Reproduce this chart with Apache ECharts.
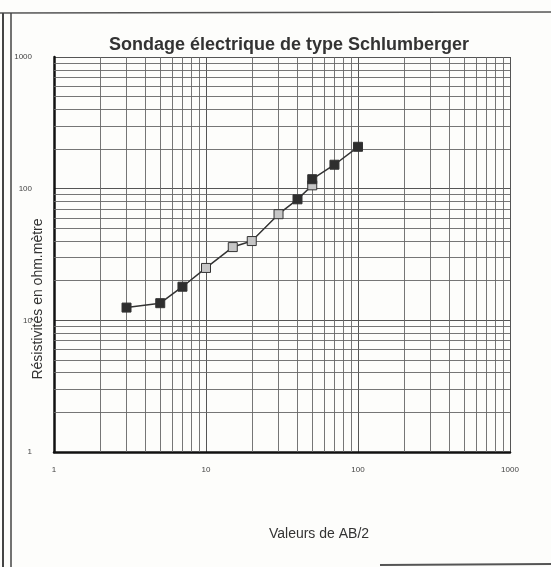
<!DOCTYPE html>
<html>
<head>
<meta charset="utf-8">
<script src="https://cdn.jsdelivr.net/npm/echarts@6/dist/echarts.min.js"></script>
<style>
html,body{margin:0;padding:0;background:#fdfdfb;}
#chart{width:551px;height:567px;}
</style>
</head>
<body>
<div id="chart"></div>
<script>
// ---- data ----
const abHalf      = [3, 5, 7, 10, 15, 20, 30, 40, 50, 50, 70, 100];           // AB/2 (m)
const resistivity = [12.5, 13.5, 18, 25, 36, 40, 64, 83, 106, 118, 152, 208]; // ohm.m
const pointGroup  = ['A','A','A','B','B','B','B','A','B','A','A','A'];
const xTicks = [1, 10, 100, 1000];
const yTicks = [1, 10, 100, 1000];
const minorSteps = [2, 3, 4, 5, 6, 7, 8, 9];
const titleText = 'Sondage électrique de type Schlumberger';
const xName = 'Valeurs de AB/2';
const yName = 'Résistivités en ohm.mètre';

// ---- build ----
const groupColor = { A: '#2e2e2e', B: '#c6c6c6' };
const pts = abHalf.map((x, i) => ({
  value: [x, resistivity[i]],
  itemStyle: { color: groupColor[pointGroup[i]], borderColor: '#333', borderWidth: 1 }
}));
const minorVals = [];
[1, 10, 100].forEach(d => minorSteps.forEach(s => minorVals.push(d * s)));
const gridMarks = [];
minorVals.forEach(v => { gridMarks.push({ xAxis: v }); gridMarks.push({ yAxis: v }); });

const chart = echarts.init(document.getElementById('chart'), null, { renderer: 'canvas' });
const font = 'Liberation Sans, Arial, sans-serif';
chart.setOption({
  backgroundColor: '#fdfdfb',
  animation: false,
  grid: { left: 54, right: 41, top: 57, bottom: 115 },
  xAxis: {
    type: 'log', logBase: 10, min: 1, max: 1000,
    axisLine: { show: true, lineStyle: { color: '#111', width: 2.5 } },
    axisTick: { show: false },
    axisLabel: { margin: 14, fontSize: 8, color: '#444', fontFamily: font,
      formatter: v => xTicks.indexOf(v) >= 0 ? String(v) : '' },
    splitLine: { show: true, lineStyle: { color: '#555', width: 1 } }
  },
  yAxis: {
    type: 'log', logBase: 10, min: 1, max: 1000,
    axisLine: { show: true, lineStyle: { color: '#111', width: 2.5 } },
    axisTick: { show: false },
    axisLabel: { margin: 22, fontSize: 8, color: '#444', fontFamily: font,
      formatter: v => yTicks.indexOf(v) >= 0 ? String(v) : '' },
    splitLine: { show: true, lineStyle: { color: '#555', width: 1 } }
  },
  series: [{
    type: 'line',
    data: pts,
    symbol: 'rect',
    symbolSize: 9,
    lineStyle: { color: '#333', width: 1.5 },
    z: 5,
    markLine: {
      silent: true, symbol: 'none', animation: false,
      label: { show: false },
      lineStyle: { color: '#666', width: 0.9, type: 'solid' },
      data: gridMarks,
      z: 1
    }
  }],
  graphic: [
    { type: 'line', shape: { x1: 0, y1: 13, x2: 551, y2: 12 }, style: { stroke: '#555', lineWidth: 1.5 } },
    { type: 'line', shape: { x1: 3, y1: 13, x2: 3, y2: 567 }, style: { stroke: '#444', lineWidth: 2 } },
    { type: 'line', shape: { x1: 11, y1: 13, x2: 11, y2: 567 }, style: { stroke: '#444', lineWidth: 1.5 } },
    { type: 'line', shape: { x1: 380, y1: 565, x2: 551, y2: 564 }, style: { stroke: '#555', lineWidth: 2 } },
    { type: 'text', x: 289, y: 45, z: 10,
      style: { text: titleText, fontSize: 18, fontWeight: 'bold', fill: '#333', fontFamily: font, align: 'center', verticalAlign: 'middle' } },
    { type: 'text', x: 319, y: 534, z: 10,
      style: { text: xName, fontSize: 14, fill: '#333', fontFamily: font, align: 'center', verticalAlign: 'middle' } },
    { type: 'text', x: 38, y: 299, rotation: Math.PI / 2, z: 10,
      style: { text: yName, fontSize: 14, fill: '#333', fontFamily: font, align: 'center', verticalAlign: 'middle' } }
  ]
});
</script>
</body>
</html>
